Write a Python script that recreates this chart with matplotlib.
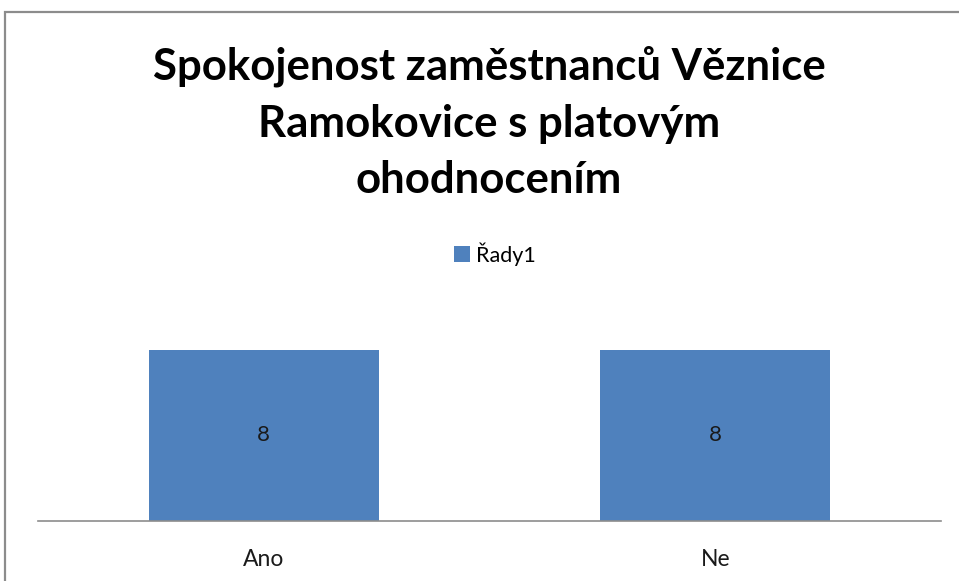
import matplotlib.pyplot as plt
from matplotlib.patches import Rectangle

categories = ["Ano", "Ne"]
values = [8, 8]
series_name = "Řady1"
title = "Spokojenost zaměstnanců Věznice\nRamokovice s platovým\nohodnocením"

W, H = 959, 581
fig = plt.figure(figsize=(W / 100, H / 100), dpi=100)
fig.patch.set_facecolor("white")

# outer chart frame (right/bottom edges fall outside the picture)
fig.add_artist(Rectangle((5 / W, -0.05), 1.1, (H - 12) / H + 0.05,
                         transform=fig.transFigure, fill=False,
                         edgecolor="#8c8c8c", linewidth=1.6))

ax = fig.add_axes([38 / W, (H - 521) / H, 903 / W, 214 / H])
bars = ax.bar(categories, values, width=0.51, color="#4f81bd", label=series_name)
ax.set_xlim(-0.5, 1.5)
ax.set_ylim(0, 10)

for b, v in zip(bars, values):
    ax.text(b.get_x() + b.get_width() / 2, v / 2, str(v), ha="center", va="center",
            fontsize=16, family="Lato", color="#1a1a1a")

for s in ["top", "right", "left"]:
    ax.spines[s].set_visible(False)
ax.spines["bottom"].set_color("#8c8c8c")
ax.spines["bottom"].set_linewidth(1.2)
ax.set_yticks([])
ax.tick_params(axis="x", length=0, pad=20, labelsize=16.5)
for lbl in ax.get_xticklabels():
    lbl.set_family("Lato")
    lbl.set_color("#1a1a1a")

fig.text(489 / W, 1 - 123 / H, title, ha="center", va="center", fontsize=31.5,
         fontweight="bold", family="Lato", linespacing=1.5, color="black")

fig.legend(handles=[bars], labels=[series_name], loc="center",
           bbox_to_anchor=(495 / W, 1 - 254 / H), frameon=False,
           prop={"family": "Lato", "size": 15.5}, handlelength=0.75,
           handleheight=0.75, handletextpad=0.3)

fig.savefig("out.png", dpi=100)
